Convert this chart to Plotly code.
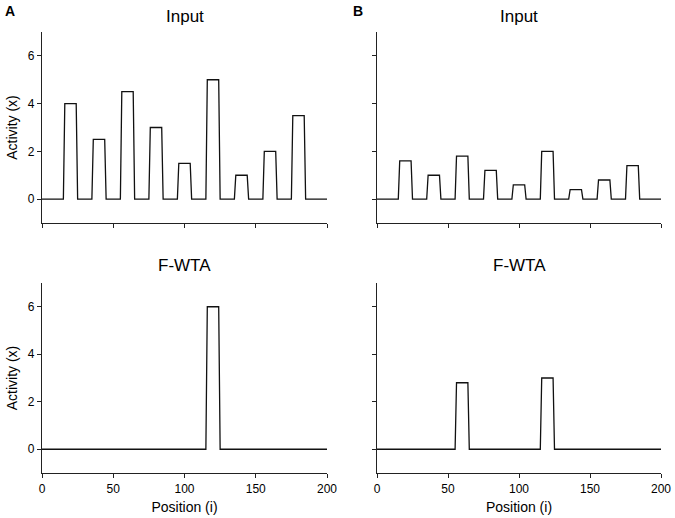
import plotly.graph_objects as go

# pulse centres along position axis
centers = [20, 40, 60, 80, 100, 120, 140, 160, 180]

# pulse heights, panel A (input) and B (input, scaled down)
input_a = [4.0, 2.5, 4.5, 3.0, 1.5, 5.0, 1.0, 2.0, 3.5]
input_b = [1.6, 1.0, 1.8, 1.2, 0.6, 2.0, 0.4, 0.8, 1.4]

# F-WTA outputs
wta_a_centers = [120]
wta_a_heights = [6.0]
wta_b_centers = [60, 120]
wta_b_heights = [2.8, 3.0]

x_ticks = [0, 50, 100, 150, 200]
y_ticks = [0, 2, 4, 6]


def pulse_path(cs, hs, start=0, end=200):
    """Piecewise-linear trace of rectangular pulses on a zero baseline"""
    xs, ys = [start], [0]
    for c, h in zip(cs, hs):
        xs += [c - 5, c - 4, c + 4, c + 5]
        ys += [0, h, h, 0]
    xs.append(end)
    ys.append(0)
    return xs, ys


W, H = 675, 518
FONT = "Liberation Sans, Arial, sans-serif"

panels = [
    # (xaxis, yaxis, data, x px, y px)
    ("x", "y", pulse_path(centers, input_a), (42, 327), (32, 223)),
    ("x2", "y2", pulse_path(centers, input_b), (377, 661), (32, 223)),
    ("x3", "y3", pulse_path(wta_a_centers, wta_a_heights), (42, 327), (283, 473)),
    ("x4", "y4", pulse_path(wta_b_centers, wta_b_heights), (377, 661), (283, 473)),
]

fig = go.Figure()
layout = {}
for i, (xa, ya, (xs, ys), (x0, x1), (y0, y1)) in enumerate(panels):
    fig.add_trace(go.Scatter(x=xs, y=ys, mode="lines", xaxis=xa, yaxis=ya,
                             line=dict(color="#111", width=1.3),
                             showlegend=False, hoverinfo="skip"))
    bottom = i >= 2
    left = i % 2 == 0
    xkey = "xaxis" + ("" if i == 0 else str(i + 1))
    ykey = "yaxis" + ("" if i == 0 else str(i + 1))
    layout[xkey] = dict(
        domain=[x0 / W, x1 / W], anchor=ya, range=[0, 200],
        tickvals=x_ticks, showticklabels=bottom, automargin=False,
        ticks="outside", ticklen=4, tickcolor="#222", tickwidth=1,
        showline=True, linecolor="#222", linewidth=1.2,
        showgrid=False, zeroline=False,
        tickfont=dict(size=12, color="black"),
        title=dict(text="Position (i)" if bottom else "", font=dict(size=14, color="black"), standoff=7),
    )
    layout[ykey] = dict(
        domain=[1 - y1 / H, 1 - y0 / H], anchor=xa, range=[-1, 7],
        tickvals=y_ticks, showticklabels=left, automargin=False,
        ticks="outside", ticklen=4, tickcolor="#222", tickwidth=1,
        showline=True, linecolor="#222", linewidth=1.2,
        showgrid=False, zeroline=False,
        tickfont=dict(size=12, color="black"),
        title=dict(text="Activity (x)" if left else "", font=dict(size=14, color="black"), standoff=6),
    )

annotations = [
    dict(text="Input", x=(42 + 327) / 2 / W, y=1 - 16 / H),
    dict(text="Input", x=(377 + 661) / 2 / W, y=1 - 16 / H),
    dict(text="F-WTA", x=(42 + 327) / 2 / W, y=1 - 265 / H),
    dict(text="F-WTA", x=(377 + 661) / 2 / W, y=1 - 265 / H),
]
for a in annotations:
    a.update(xref="paper", yref="paper", showarrow=False, xanchor="center", yanchor="middle",
             font=dict(size=17, color="black", family=FONT))
annotations += [
    dict(text="<b>A</b>", x=3 / W, y=1 - 11 / H),
    dict(text="<b>B</b>", x=351 / W, y=1 - 11 / H),
]
for a in annotations[4:]:
    a.update(xref="paper", yref="paper", showarrow=False, xanchor="left", yanchor="middle",
             font=dict(size=14, color="black", family=FONT))

fig.update_layout(
    width=W, height=H,
    margin=dict(l=0, r=0, t=0, b=0),
    paper_bgcolor="white", plot_bgcolor="white",
    font=dict(family=FONT, color="black"),
    annotations=annotations,
    **layout,
)

# drop the browser's default page margin so the figure fills the window
fig.write_html("out.html", config={"displayModeBar": False},
               post_script="document.body.style.margin = '0';")
